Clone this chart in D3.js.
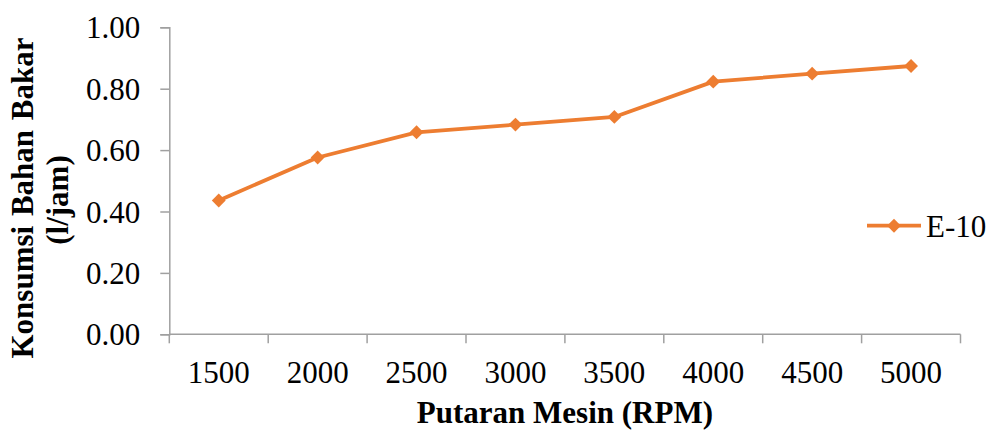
<!DOCTYPE html>
<html>
<head>
<meta charset="utf-8">
<script src="https://cdn.jsdelivr.net/npm/d3@7"></script>
<style>
  html, body { margin: 0; padding: 0; background: #fff; }
  svg { display: block; font-family: "Times New Roman", "Liberation Serif", serif; }
</style>
</head>
<body>
<svg id="chart" width="989" height="430"></svg>
<script>
// Engine speed (RPM) categories
const rpm = ["1500", "2000", "2500", "3000", "3500", "4000", "4500", "5000"];
// Fuel consumption of E-10 blend (l/jam)
const e10 = [0.436, 0.576, 0.658, 0.683, 0.708, 0.823, 0.849, 0.874];
// Y axis tick values
const yTicks = [0, 0.2, 0.4, 0.6, 0.8, 1.0];
const seriesName = "E-10";
const yTitle = ["Konsumsi Bahan Bakar", "(l/jam)"];
const xTitle = "Putaran Mesin (RPM)";

const svg = d3.select("#chart");
const orange = "#ED7D31";
const axisGrey = "#a0a0a0";
const plot = { left: 169.3, right: 960.5, top: 27.3, bottom: 334.3 };

const x = d3.scaleBand().domain(rpm).range([plot.left, plot.right]).padding(0);
const y = d3.scaleLinear().domain([0, 1]).range([plot.bottom, plot.top]);

// Y axis with left-pointing ticks
const yAxis = svg.append("g")
  .attr("transform", `translate(${plot.left},0)`)
  .call(d3.axisLeft(y).tickValues(yTicks).tickFormat(d3.format(".2f")).tickSize(9).tickPadding(20));
yAxis.select(".domain").attr("stroke", axisGrey).attr("stroke-width", 1.5);
yAxis.selectAll(".tick line").attr("stroke", axisGrey).attr("stroke-width", 1.5);
yAxis.selectAll(".tick text")
  .attr("fill", "#000").attr("font-size", 31)
  .attr("font-family", "'Times New Roman', 'Liberation Serif', serif")
  .attr("dy", "0.34em");

// X axis: labels centred in each category, tick marks on category boundaries
const xAxis = svg.append("g")
  .attr("transform", `translate(0,${plot.bottom})`)
  .call(d3.axisBottom(x).tickSize(0).tickPadding(0));
xAxis.select(".domain").remove();
xAxis.selectAll(".tick text")
  .attr("fill", "#000").attr("font-size", 31)
  .attr("font-family", "'Times New Roman', 'Liberation Serif', serif")
  .attr("y", 49).attr("dy", 0);

const boundaries = rpm.map(d => x(d)).concat([x.range()[1]]);
const xg = svg.append("g").attr("stroke", axisGrey).attr("stroke-width", 1.5);
xg.append("line")
  .attr("x1", plot.left).attr("x2", plot.right)
  .attr("y1", plot.bottom).attr("y2", plot.bottom);
xg.selectAll("line.bt").data(boundaries).join("line")
  .attr("class", "bt")
  .attr("x1", d => d).attr("x2", d => d)
  .attr("y1", plot.bottom).attr("y2", plot.bottom + 9);

// Series line
const pts = rpm.map((r, i) => [x(r) + x.bandwidth() / 2, y(e10[i])]);
svg.append("path")
  .attr("d", d3.line()(pts))
  .attr("fill", "none").attr("stroke", orange)
  .attr("stroke-width", 3.8).attr("stroke-linejoin", "round");

// Diamond markers
const diamond = d3.symbol(d3.symbolSquare, 96);
svg.selectAll("path.mk").data(pts).join("path")
  .attr("class", "mk")
  .attr("d", diamond)
  .attr("transform", d => `translate(${d[0]},${d[1]}) rotate(45)`)
  .attr("fill", orange);

// Legend
const lg = svg.append("g");
lg.append("line")
  .attr("x1", 867).attr("x2", 921).attr("y1", 225.7).attr("y2", 225.7)
  .attr("stroke", orange).attr("stroke-width", 3.8);
lg.append("path").attr("d", diamond)
  .attr("transform", "translate(894,225.7) rotate(45)")
  .attr("fill", orange);
lg.append("text").attr("x", 926).attr("y", 236.7)
  .attr("font-size", 31).attr("fill", "#000").text(seriesName);

// Axis titles
const yt = svg.append("text")
  .attr("transform", "translate(0,198) rotate(-90)")
  .attr("text-anchor", "middle").attr("font-weight", "bold")
  .attr("font-size", 31).attr("fill", "#000");
yt.append("tspan").attr("x", 0).attr("y", 33.3).attr("word-spacing", "2px").text(yTitle[0]);
yt.append("tspan").attr("x", -2).attr("y", 68).text(yTitle[1]);

svg.append("text")
  .attr("x", (plot.left + plot.right) / 2).attr("y", 423)
  .attr("text-anchor", "middle").attr("font-weight", "bold")
  .attr("font-size", 31).attr("fill", "#000").text(xTitle);
</script>
</body>
</html>
